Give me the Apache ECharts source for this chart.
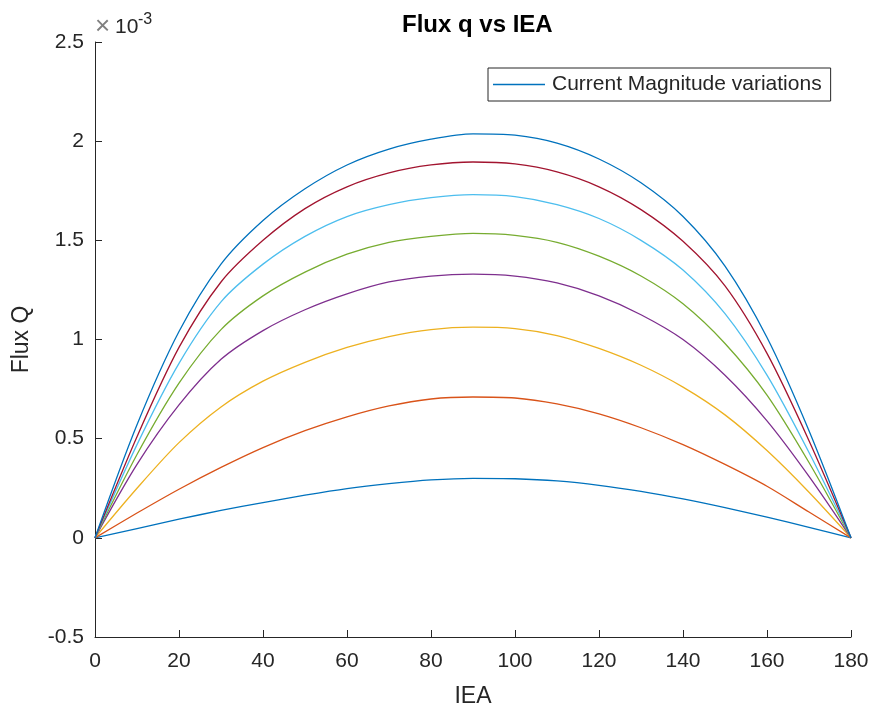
<!DOCTYPE html>
<html>
<head>
<meta charset="utf-8">
<script src="https://cdn.jsdelivr.net/npm/echarts@6/dist/echarts.min.js"></script>
<style>
html,body{margin:0;padding:0;background:#fff;}
#chart{width:873px;height:713px;}
</style>
</head>
<body>
<div id="chart"></div>
<script>
// IEA angle (degrees)
var iea = [0,10,20,30,40,50,60,70,80,90,100,110,120,130,140,150,160,170,180];
// Flux Q values, in units of 1e-3
var flux1 = [0,0.047,0.094,0.138,0.178,0.215,0.248,0.273,0.292,0.300,0.298,0.287,0.265,0.234,0.196,0.152,0.104,0.053,0];
var flux2 = [0,0.125,0.245,0.355,0.455,0.54,0.61,0.665,0.70,0.71,0.705,0.675,0.625,0.555,0.47,0.37,0.26,0.13,0];
var flux3 = [0,0.25,0.48,0.66,0.79,0.885,0.96,1.015,1.05,1.062,1.055,1.02,0.955,0.87,0.76,0.62,0.44,0.23,0];
var flux4 = [0,0.37,0.67,0.90,1.045,1.15,1.23,1.29,1.32,1.33,1.32,1.285,1.22,1.125,1.0,0.82,0.59,0.31,0];
var flux5 = [0,0.42,0.78,1.05,1.22,1.34,1.43,1.49,1.52,1.535,1.525,1.49,1.42,1.32,1.18,0.98,0.72,0.38,0];
var flux6 = [0,0.47,0.88,1.19,1.38,1.52,1.62,1.68,1.715,1.73,1.72,1.68,1.61,1.50,1.35,1.13,0.82,0.43,0];
var flux7 = [0,0.51,0.96,1.29,1.50,1.66,1.77,1.84,1.88,1.895,1.885,1.845,1.77,1.655,1.495,1.27,0.93,0.49,0];
var flux8 = [0,0.57,1.04,1.38,1.60,1.76,1.88,1.96,2.01,2.037,2.03,1.99,1.91,1.79,1.62,1.37,1.01,0.54,0];
var seriesData = [flux1, flux2, flux3, flux4, flux5, flux6, flux7, flux8];
var seriesNames = ['Current Magnitude variations','s2','s3','s4','s5','s6','s7','s8'];
var colors = ['#0072BD','#D95319','#EDB120','#7E2F8E','#77AC30','#4DBEEE','#A2142F','#0072BD'];
var xTicks = {min:0, max:180, interval:20};
var yTicks = {min:-0.5, max:2.5, interval:0.5};

var FONT = '"Liberation Sans", Arial, Helvetica, sans-serif';
var TXT = '#262626';

var chart = echarts.init(document.getElementById('chart'), null, {renderer:'canvas'});

var series = seriesData.map(function(arr, i){
  return {
    name: seriesNames[i],
    type: 'line',
    data: arr.map(function(v, j){ return [iea[j], v]; }),
    showSymbol: false,
    symbol: 'none',
    smooth: 0.3,
    lineStyle: {width: 1.3, color: colors[i]},
    itemStyle: {color: colors[i]},
    emphasis: {disabled: true},
    z: 2
  };
});

chart.setOption({
  animation: false,
  backgroundColor: '#fff',
  textStyle: {fontFamily: FONT},
  title: {
    text: 'Flux q vs IEA',
    left: 397, top: 8,
    textStyle: {fontFamily: FONT, fontSize: 24, fontWeight: 'bold', color: '#000'}
  },
  legend: {
    data: ['Current Magnitude variations'],
    left: 488, top: 68,
    padding: [6, 9, 6, 5],
    itemWidth: 52, itemHeight: 1.5,
    itemGap: 5,
    icon: 'rect',
    borderColor: TXT, borderWidth: 1,
    backgroundColor: '#fff',
    selectedMode: false,
    textStyle: {fontFamily: FONT, fontSize: 21, color: TXT, padding: [0,0,0,2]}
  },
  grid: {left: 95, right: 22, top: 42, bottom: 73, containLabel: false},
  xAxis: {
    type: 'value',
    min: xTicks.min, max: xTicks.max, interval: xTicks.interval,
    name: 'IEA', nameLocation: 'middle', nameGap: 48,
    nameTextStyle: {fontFamily: FONT, fontSize: 23, color: TXT},
    axisLine: {show: true, onZero: false, lineStyle: {color: TXT, width: 1}},
    axisTick: {show: true, inside: true, length: 7, lineStyle: {color: TXT}},
    axisLabel: {fontFamily: FONT, fontSize: 21, color: TXT, margin: 14},
    splitLine: {show: false}
  },
  yAxis: {
    type: 'value',
    min: yTicks.min, max: yTicks.max, interval: yTicks.interval,
    name: 'Flux Q', nameLocation: 'middle', nameGap: 62, nameRotate: 90,
    nameTextStyle: {fontFamily: FONT, fontSize: 23, color: TXT},
    axisLine: {show: true, onZero: false, lineStyle: {color: TXT, width: 1}},
    axisTick: {show: true, inside: true, length: 7, lineStyle: {color: TXT}},
    axisLabel: {fontFamily: FONT, fontSize: 21, color: TXT, margin: 11,
      formatter: function(v){ return String(v); }},
    splitLine: {show: false}
  },
  graphic: [
    {type: 'text', left: 95, top: 14, style: {text: '×', font: '26px ' + FONT, fill: '#808080'}},
    {type: 'text', left: 115, top: 17, style: {text: '10', font: '21px ' + FONT, fill: TXT}},
    {type: 'text', left: 138, top: 12, style: {text: '-3', font: '16px ' + FONT, fill: TXT}}
  ],
  series: series
});
</script>
</body>
</html>
